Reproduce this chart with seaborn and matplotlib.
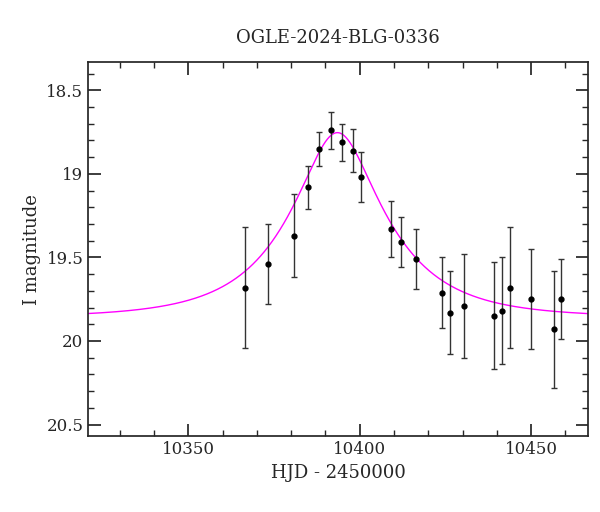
import numpy as np
import matplotlib
matplotlib.use("Agg")
import matplotlib.pyplot as plt
import seaborn as sns
from matplotlib.ticker import MultipleLocator

hjd = [10366.6, 10373.3, 10380.9, 10385.0, 10388.2, 10391.7, 10394.9, 10398.1, 10400.4,
       10409.2, 10412.1, 10416.5, 10424.1, 10426.4, 10430.5, 10439.2, 10441.5, 10443.9,
       10450.0, 10456.7, 10458.7]
mag = [19.68, 19.54, 19.37, 19.08, 18.85, 18.74, 18.81, 18.86, 19.02,
       19.33, 19.41, 19.51, 19.71, 19.83, 19.79, 19.85, 19.82, 19.68,
       19.75, 19.93, 19.75]
err = [0.36, 0.24, 0.25, 0.13, 0.10, 0.11, 0.11, 0.13, 0.15,
       0.17, 0.15, 0.18, 0.21, 0.25, 0.31, 0.32, 0.32, 0.36,
       0.30, 0.35, 0.24]

# Paczynski model parameters
t0, u0, tE, base = 10393.5, 0.38, 26.7, 19.86

sns.set_theme(style="ticks")
plt.rcParams["font.family"] = "DejaVu Serif"
fig, ax = plt.subplots(figsize=(6.0, 5.12), dpi=100)
fig.subplots_adjust(left=0.147, right=0.98, top=0.879, bottom=0.148)

t = np.linspace(10320, 10470, 800)
u = np.sqrt(u0**2 + ((t - t0) / tE) ** 2)
A = (u**2 + 2) / (u * np.sqrt(u**2 + 4))
model = base - 2.5 * np.log10(A)
sns.lineplot(x=t, y=model, color="#ff00ff", lw=1.0, ax=ax)
ax.errorbar(hjd, mag, yerr=err, fmt="o", color="black", ms=3.5, ecolor="#333333",
            elinewidth=1.0, capsize=2.5, capthick=1.0)

ax.set_xlim(10320.8, 10466.6)
ax.set_ylim(20.57, 18.33)
ax.xaxis.set_major_locator(MultipleLocator(50))
ax.xaxis.set_minor_locator(MultipleLocator(10))
ax.yaxis.set_major_locator(MultipleLocator(0.5))
ax.yaxis.set_minor_locator(MultipleLocator(0.1))
ax.set_yticks([18.5, 19, 19.5, 20, 20.5])
ax.set_yticklabels(["18.5", "19", "19.5", "20", "20.5"])
ax.tick_params(which="both", direction="in", top=True, right=True, labelsize=12)
ax.tick_params(which="major", length=9)
ax.tick_params(which="minor", length=4.5)
ax.set_xlabel("HJD - 2450000", fontsize=13)
ax.set_ylabel("I magnitude", fontsize=13)
ax.set_title("OGLE-2024-BLG-0336", fontsize=13, pad=14)
fig.savefig("out.png")
